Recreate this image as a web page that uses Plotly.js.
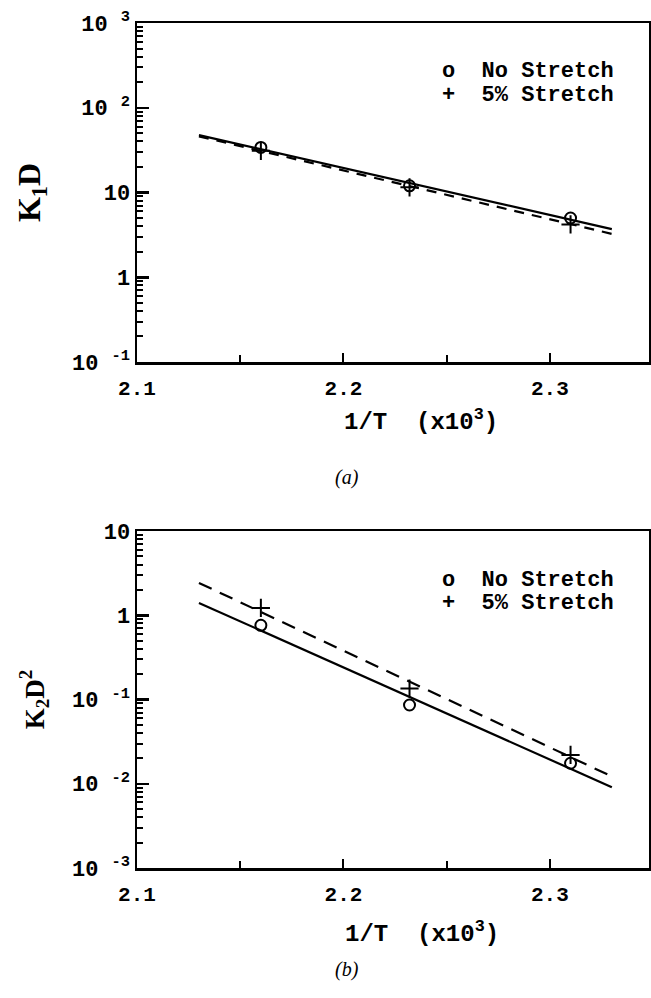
<!DOCTYPE html>
<html>
<head>
<meta charset="utf-8">
<script src="https://cdn.plot.ly/plotly-3.0.1.min.js"></script>
<style>
  html, body { margin: 0; padding: 0; background: #fff; }
  #chart { width: 651px; height: 998px; }
</style>
</head>
<body>
<div id="chart"></div>
<script>
// Inverse temperature (x10^3) of the three measurements
const invTemp = [2.16, 2.232, 2.31];

// (a) K1·D
const k1NoStretch = [34, 12, 5.0];
const k1Stretch5 = [31, 11.5, 4.2];

// (b) K2·D^2
const k2NoStretch = [0.76, 0.086, 0.0175];
const k2Stretch5 = [1.22, 0.135, 0.022];

// Arrhenius fit lines (end points)
const fitX = [2.13, 2.33];
const k1FitNo = [47.5, 3.7];
const k1FitStretch = [46, 3.25];
const k2FitNo = [1.40, 0.0091];
const k2FitStretch = [2.42, 0.0122];

// Tick labels
const xTickVals = [2.1, 2.2, 2.3];
const xTickText = ['2.1', '2.2', '2.3'];
const k1TickVals = [0.1, 1, 10, 100, 1000];
const k1TickText = ['10 <sup>-1</sup>', '1', '10', '10 <sup>2</sup>', '10 <sup>3</sup>'];
const k2TickVals = [0.001, 0.01, 0.1, 1, 10];
const k2TickText = ['10 <sup>-3</sup>', '10 <sup>-2</sup>', '10 <sup>-1</sup>', '1', '10'];

const seriesNames = ['No Stretch', '5% Stretch'];
const seriesSymbols = ['o', '+'];

const monoBold = 'Liberation Mono';
const serif = 'Liberation Serif';
const ink = '#000';

// minor ticks at 2..9 within every decade of a log axis
function decadeMinors(loExp, hiExp) {
  const vals = [];
  for (let e = loExp; e < hiExp; e++) {
    for (let k = 2; k <= 9; k++) vals.push(k * Math.pow(10, e));
  }
  return vals;
}

function markerTrace(x, y, name, symbol, xa, ya) {
  return {
    x: x, y: y, name: name, type: 'scatter', mode: 'markers',
    xaxis: xa, yaxis: ya, showlegend: false,
    marker: {
      symbol: symbol, size: symbol === 'circle-open' ? 11 : 13,
      color: ink, line: { color: ink, width: 2 }
    },
    cliponaxis: false
  };
}

function fitTrace(x, y, dash, xa, ya) {
  return {
    x: x, y: y, type: 'scatter', mode: 'lines', showlegend: false,
    xaxis: xa, yaxis: ya, hoverinfo: 'skip',
    line: { color: ink, width: 2.2, dash: dash }
  };
}

const traces = [
  fitTrace(fitX, k1FitNo, 'solid', 'x', 'y'),
  fitTrace(fitX, k1FitStretch, '10px,8px', 'x', 'y'),
  markerTrace(invTemp, k1NoStretch, seriesNames[0], 'circle-open', 'x', 'y'),
  markerTrace(invTemp, k1Stretch5, seriesNames[1], 'cross-thin-open', 'x', 'y'),

  fitTrace(fitX, k2FitNo, 'solid', 'x2', 'y2'),
  fitTrace(fitX, k2FitStretch, '14px,9px', 'x2', 'y2'),
  markerTrace(invTemp, k2NoStretch, seriesNames[0], 'circle-open', 'x2', 'y2'),
  markerTrace(invTemp, k2Stretch5, seriesNames[1], 'cross-thin-open', 'x2', 'y2')
];

function xAxis(anchor) {
  return {
    anchor: anchor,
    domain: [137 / 651, 649 / 651],
    range: [2.1, 2.348],
    tickvals: xTickVals, ticktext: xTickText,
    ticks: 'inside', ticklen: 9, tickwidth: 2, tickcolor: ink,
    minor: { ticks: 'inside', ticklen: 7, tickwidth: 2, tickcolor: ink, dtick: 0.05 },
    showline: true, linecolor: ink, linewidth: 2.5, mirror: true,
    showgrid: false, zeroline: false,
    tickfont: { family: monoBold, size: 21, color: ink, weight: 'bold' },
    ticklabelstandoff: 5
  };
}

function yAxis(anchor, domain, range, tv, tt, titleText, titleSize, titleStandoff) {
  return {
    anchor: anchor,
    domain: domain,
    type: 'log',
    range: range,
    tickmode: 'array',
    tickvals: tv, ticktext: tt,
    ticks: 'inside', ticklen: 12, tickwidth: 2.5, tickcolor: ink,
    minor: {
      ticks: 'inside', ticklen: 6, tickwidth: 2, tickcolor: ink,
      tickmode: 'array', tickvals: decadeMinors(range[0], range[1])
    },
    showline: true, linecolor: ink, linewidth: 2.5, mirror: true,
    showgrid: false, zeroline: false,
    tickfont: { family: monoBold, size: 22, color: ink, weight: 'bold' },
    title: {
      text: titleText,
      font: { family: serif, size: titleSize, color: ink, weight: 'bold' },
      standoff: titleStandoff
    }
  };
}

// x-axis titles, key entries and panel captions
const labelFont = { family: monoBold, size: 24, color: ink, weight: 'bold' };
const keyFont = { family: monoBold, size: 22, color: ink, weight: 'bold' };
const captionFont = { family: serif, size: 20, color: ink, style: 'italic' };

function paperText(text, px, py, font, xanchor) {
  return {
    text: text, xref: 'paper', yref: 'paper',
    x: px / 651, y: 1 - py / 998,
    xanchor: xanchor || 'center', yanchor: 'middle',
    showarrow: false, font: font
  };
}

const annotations = [
  paperText('1/T  (x10<sup>3</sup>)', 421, 420, labelFont),
  paperText('1/T  (x10<sup>3</sup>)', 422, 932, labelFont),
  paperText(seriesSymbols[0] + '  ' + seriesNames[0], 440, 72, keyFont, 'left'),
  paperText(seriesSymbols[1] + '  ' + seriesNames[1], 440, 95, keyFont, 'left'),
  paperText(seriesSymbols[0] + '  ' + seriesNames[0], 440, 580, keyFont, 'left'),
  paperText(seriesSymbols[1] + '  ' + seriesNames[1], 440, 603, keyFont, 'left'),
  paperText('(a)', 347, 478, captionFont),
  paperText('(b)', 347, 969, captionFont)
];

const k1Range = [-1, 3];
const k2Range = [-3, 1];

const layout = {
  width: 651, height: 998,
  margin: { l: 0, r: 0, t: 0, b: 0 },
  paper_bgcolor: '#fff', plot_bgcolor: '#fff',
  showlegend: false,
  xaxis: xAxis('y'),
  yaxis: yAxis('x', [1 - 362 / 998, 1 - 23 / 998], k1Range, k1TickVals, k1TickText, 'K<sub>1</sub>D', 32, 22),
  xaxis2: xAxis('y2'),
  yaxis2: yAxis('x2', [1 - 868 / 998, 1 - 531 / 998], k2Range, k2TickVals, k2TickText, 'K<sub>2</sub>D<sup>2</sup>', 27, 20),
  annotations: annotations
};

Plotly.newPlot('chart', traces, layout, { staticPlot: true, displayModeBar: false });
</script>
</body>
</html>
